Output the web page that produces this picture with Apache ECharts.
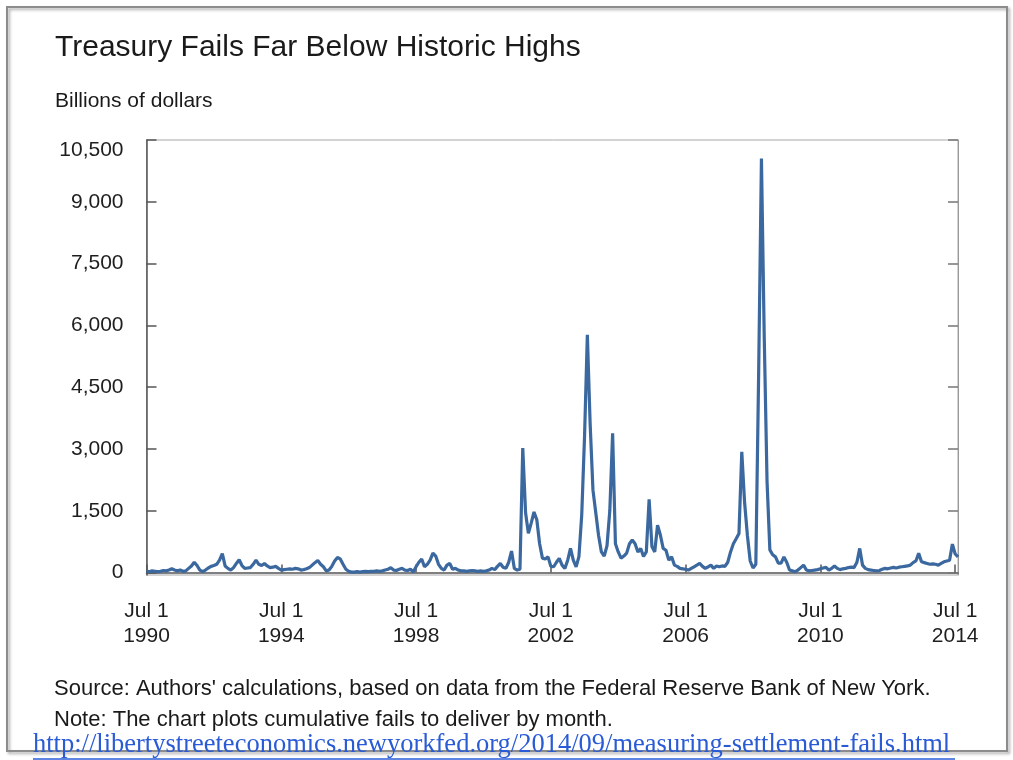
<!DOCTYPE html>
<html>
<head>
<meta charset="utf-8">
<script src="https://cdn.jsdelivr.net/npm/echarts@6.0.0/dist/echarts.min.js"></script>
<style>
html,body{margin:0;padding:0;background:#fff;}
#chart{width:1013px;height:760px;}
</style>
</head>
<body>
<div id="chart"></div>
<script>
// Monthly cumulative Treasury fails, billions of dollars, starting July 1990
var startYear = 1990.5; // Jul 1990 as decimal year
var fails = [
  30,20,40,30,20,30,50,40,60,90,60,40,
  60,30,40,100,160,250,170,60,20,60,110,150,
  170,200,300,460,160,100,60,120,220,310,170,100,
  110,120,200,300,200,170,220,160,120,130,150,100,
  60,70,80,90,80,100,90,60,70,90,120,180,
  240,295,200,140,40,60,150,280,365,330,200,80,
  30,10,10,20,10,20,30,20,30,30,40,30,
  40,60,80,115,60,50,80,100,60,50,80,10,
  140,250,330,140,200,300,470,400,200,100,60,180,
  220,80,100,60,40,40,30,40,50,40,30,40,
  30,40,60,100,70,150,220,130,100,250,520,100,
  60,80,3020,1450,950,1200,1470,1280,700,350,330,380,
  150,140,250,345,180,100,300,585,300,140,385,1400,
  3300,5770,3600,2000,1450,900,500,400,650,1500,3380,700,
  500,350,400,470,700,790,700,500,585,390,500,1775,
  630,500,1150,910,585,540,300,385,180,150,100,90,
  80,60,100,140,180,220,150,100,140,180,100,160,
  140,160,150,250,500,700,820,950,2930,1700,900,280,
  110,200,4800,10050,5700,2200,550,430,380,230,230,380,
  250,60,40,20,60,120,180,60,40,50,60,70,
  90,110,125,60,100,160,100,70,90,100,120,130,
  120,250,585,180,100,70,60,50,40,50,80,100,
  90,110,125,110,130,140,150,160,180,240,280,465,
  260,240,220,200,210,200,180,220,260,280,300,690,
  450,380
];
var xTickYears = [1990, 1994, 1998, 2002, 2006, 2010, 2014];
var yTicks = [0, 1500, 3000, 4500, 6000, 7500, 9000, 10500];

var titleText = 'Treasury Fails Far Below Historic Highs';
var unitText = 'Billions of dollars';
var sourceText = "Source: Authors' calculations, based on data from the Federal Reserve Bank of New York.";
var noteText = 'Note: The chart plots cumulative fails to deliver by month.';
var linkText = 'http://libertystreeteconomics.newyorkfed.org/2014/09/measuring-settlement-fails.html';

var seriesData = fails.map(function (v, i) { return [startYear + i / 12, v]; });
var xTickVals = xTickYears.map(function (y) { return y + 0.5; });
var xMax = startYear + (fails.length - 1) / 12;

var chart = echarts.init(document.getElementById('chart'), null, {renderer: 'canvas'});
var font = '"Liberation Sans", Arial, sans-serif';

var option = {
  backgroundColor: '#ffffff',
  animation: false,
  textStyle: {fontFamily: font},
  grid: {
    left: 146.5, right: 55, top: 140, bottom: 185,
    show: true, borderColor: '#a8a8a8', borderWidth: 1, backgroundColor: 'transparent'
  },
  xAxis: {
    type: 'value',
    min: startYear,
    max: xMax,
    axisLine: {show: true, lineStyle: {color: '#555', width: 1.5}},
    splitLine: {show: false},
    axisTick: {show: true, inside: true, length: 8, customValues: xTickVals, lineStyle: {color: '#555', width: 1.5}},
    axisLabel: {
      customValues: xTickVals,
      formatter: function (v) { return 'Jul 1\n' + Math.floor(v); },
      fontSize: 21, lineHeight: 25, color: '#1e1e1e', margin: 24, fontFamily: font
    }
  },
  yAxis: [{
    type: 'value',
    min: -60,
    max: 10500,
    position: 'left',
    axisLine: {show: true, lineStyle: {color: '#555', width: 1.5}},
    splitLine: {show: false},
    axisTick: {show: true, inside: true, length: 10, customValues: yTicks, lineStyle: {color: '#555', width: 1.5}},
    axisLabel: {
      customValues: yTicks,
      formatter: function (v) { return v.toLocaleString('en-US'); },
      fontSize: 21, color: '#1e1e1e', margin: 23, fontFamily: font,
      verticalAlignMaxLabel: 'top'
    }
  }, {
    type: 'value',
    min: -60,
    max: 10500,
    position: 'right',
    axisLine: {show: true, lineStyle: {color: '#999', width: 1}},
    splitLine: {show: false},
    axisTick: {show: true, inside: true, length: 10, customValues: yTicks, lineStyle: {color: '#777', width: 1.5}},
    axisLabel: {show: false}
  }],
  series: [{
    type: 'line',
    data: seriesData,
    showSymbol: false,
    lineStyle: {color: '#3a689f', width: 3.2},
    z: 3
  }],
  graphic: [
    {type: 'rect', shape: {x: 7, y: 7, width: 1000, height: 744}, style: {fill: 'none', stroke: '#8c8c8c', lineWidth: 2, shadowColor: 'rgba(0,0,0,0.35)', shadowBlur: 3, shadowOffsetX: 2, shadowOffsetY: 2}, z: 0, silent: true},
    {type: 'text', left: 55, top: 33, style: {text: titleText, font: '30px ' + font, fill: '#1a1a1a'}},
    {type: 'text', left: 55, top: 91, style: {text: unitText, font: '21px ' + font, fill: '#1a1a1a'}},
    {type: 'text', left: 54, top: 678, style: {text: sourceText, font: '22px ' + font, fill: '#1a1a1a'}},
    {type: 'text', left: 54, top: 709, style: {text: noteText, font: '22px ' + font, fill: '#1a1a1a'}},
    {type: 'text', left: 33, top: 732, style: {text: linkText, font: '26.5px "Liberation Serif", "Times New Roman", serif', fill: '#2a5bd7'}},
    {type: 'line', shape: {x1: 33, y1: 759, x2: 955, y2: 759}, style: {stroke: '#2a5bd7', lineWidth: 1.5}}
  ]
};
chart.setOption(option);
</script>
</body>
</html>
